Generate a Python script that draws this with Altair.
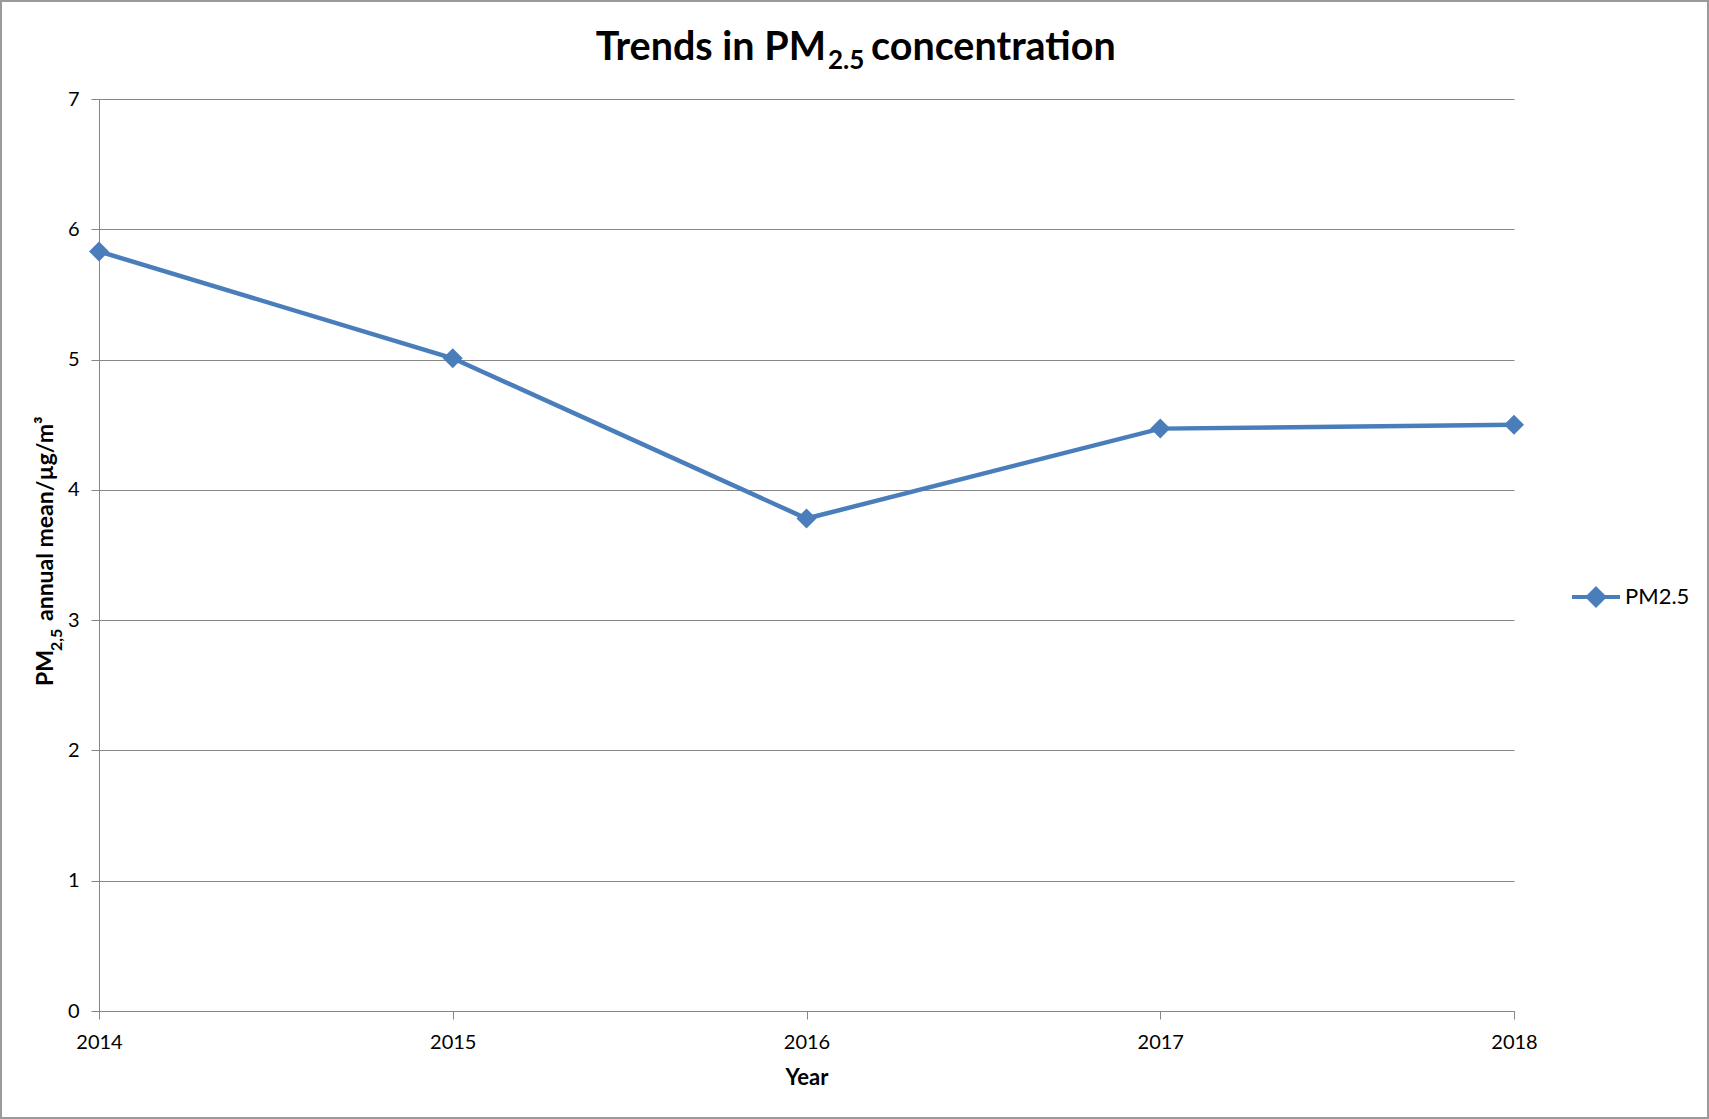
import altair as alt
import pandas as pd

# PM2.5 annual mean by year
years = [2014, 2015, 2016, 2017, 2018]
pm25 = [5.83, 5.01, 3.78, 4.47, 4.50]
series_name = "PM2.5"
y_ticks = [0, 1, 2, 3, 4, 5, 6, 7]

BLUE = "#4A7EBB"
GRID = "#868686"
FONT = "Lato"

W, H = 1415, 912
PAD_L, PAD_T, PAD_R, PAD_B = 99, 99, 195, 108

df = pd.DataFrame({"year": years, "pm": pm25, "series": [series_name] * len(years)})

x_enc = alt.X(
    "year:Q",
    scale=alt.Scale(domain=[years[0], years[-1]], nice=False, zero=False),
    axis=alt.Axis(values=years, format="d", grid=False, title="Year", labelFlush=False),
)
y_enc = alt.Y(
    "pm:Q",
    scale=alt.Scale(domain=[0, 7], nice=False),
    axis=alt.Axis(values=y_ticks, format="d", grid=True, title=None, labelFlush=False),
)

line = alt.Chart(df).mark_line(color=BLUE, strokeWidth=4.5).encode(x=x_enc, y=y_enc)

# legend glyph: short line with a diamond in the middle
legend_path = "M-1,0L1,0M0,-0.34L0.34,0L0,0.34L-0.34,0Z"
points = alt.Chart(df).mark_point(shape="diamond", filled=True, size=400, opacity=1).encode(
    x=x_enc,
    y=y_enc,
    color=alt.Color(
        "series:N",
        scale=alt.Scale(domain=[series_name], range=[BLUE]),
        legend=alt.Legend(
            title=None,
            orient="none",
            legendX=1471,
            legendY=472,
            symbolType=legend_path,
            symbolSize=2304,
            symbolStrokeColor=BLUE,
            symbolFillColor=BLUE,
            symbolStrokeWidth=4,
            labelFont=FONT,
            labelFontSize=22,
            labelColor="#000000",
            labelOffset=3,
        ),
    ),
)

one = pd.DataFrame({"k": [0]})


def txt(s, x, y, size, bold=True, angle=0, align="left"):
    kw = dict(font=FONT, fontSize=size, fontWeight="bold" if bold else "normal",
              color="#000000", align=align, baseline="alphabetic")
    if angle:
        kw["angle"] = angle
    return alt.Chart(one).mark_text(**kw).encode(
        x=alt.value(x), y=alt.value(y), text=alt.value(s)
    )


# chart title with subscript
title_x = 727
title_y = -39
title = (
    txt("Trends in PM", title_x, title_y, 39.5, align="right")
    + txt("2.5", title_x + 2, title_y + 9, 26)
    + txt("concentration", title_x + 45, title_y, 39.5)
)

# rotated y-axis title with subscript and superscript
yt_x = -46
yt_y = 587
pm_w = 35
sub_w = 24
ytitle = (
    txt("PM", yt_x, yt_y, 23, angle=270)
    + txt("2,5", yt_x + 9, yt_y - pm_w, 16, angle=270)
    + txt("annual mean/µg/m³", yt_x, yt_y - pm_w - sub_w - 6, 23, angle=270)
)

# outer frame
frame = alt.Chart(one).mark_rect(filled=False, stroke="#9a9a9a", strokeWidth=2).encode(
    x=alt.value(-PAD_L + 1), y=alt.value(-PAD_T + 1),
    x2=alt.value(W + PAD_R - 1), y2=alt.value(H + PAD_B - 1),
)

chart = (
    alt.layer(line, points, title, ytitle, frame)
    .properties(
        width=W,
        height=H,
        autosize=alt.AutoSizeParams(type="none"),
        padding={"left": PAD_L, "top": PAD_T, "right": PAD_R, "bottom": PAD_B},
        background="white",
    )
    .configure_view(stroke=None)
    .configure_axis(
        domainColor=GRID,
        tickColor=GRID,
        gridColor=GRID,
        tickSize=8,
        labelFont=FONT,
        labelFontSize=20,
        labelColor="#000000",
        titleFont=FONT,
        titleFontSize=22,
        titleFontWeight="bold",
        titleColor="#000000",
    )
    .configure_axisX(labelPadding=13, titlePadding=15)
    .configure_axisY(labelPadding=12)
)

chart.save("out.html", embed_options={"renderer": "svg", "actions": False})
